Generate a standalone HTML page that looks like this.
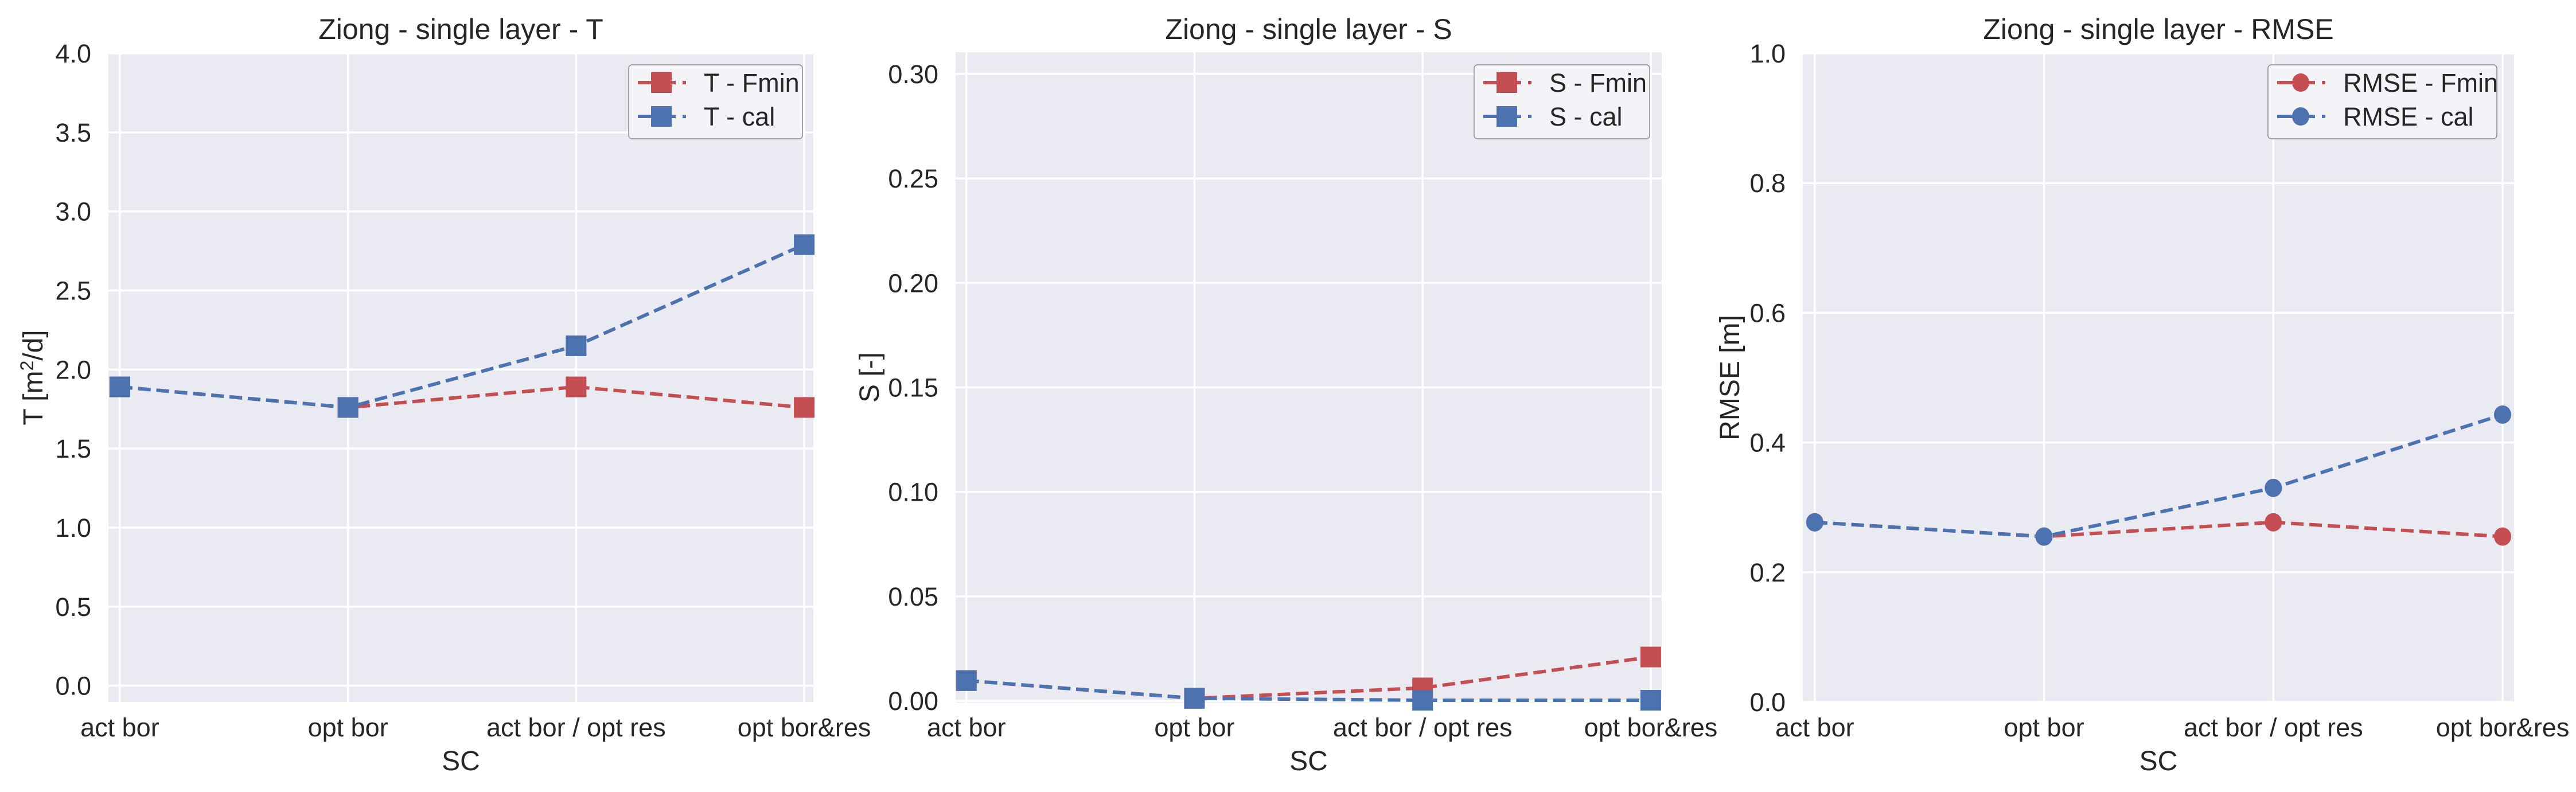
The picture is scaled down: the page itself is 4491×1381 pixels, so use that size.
<!DOCTYPE html>
<html><head><meta charset="utf-8"><style>
html,body{margin:0;padding:0;background:#fff;overflow:hidden;}
svg{display:block;font-family:"Liberation Sans",Arial,sans-serif;}
</style></head><body>
<svg id="fig" width="4491" height="1381" viewBox="0 0 4491 1381" xmlns="http://www.w3.org/2000/svg"></svg>
<script>
const categories = ["act bor","opt bor","act bor / opt res","opt bor&res"];
const tFmin = [1.89, 1.76, 1.89, 1.76];
const tCal = [1.89, 1.76, 2.15, 2.79];
const sFmin = [0.0097, 0.0012, 0.0062, 0.021];
const sCal = [0.0097, 0.0012, 0.0003, 0.0003];
const rmseFmin = [0.277, 0.255, 0.277, 0.255];
const rmseCal = [0.277, 0.255, 0.330, 0.443];
const tTicks = ["0.0","0.5","1.0","1.5","2.0","2.5","3.0","3.5","4.0"];
const sTicks = ["0.00","0.05","0.10","0.15","0.20","0.25","0.30"];
const rmseTicks = ["0.0","0.2","0.4","0.6","0.8","1.0"];

const NS = "http://www.w3.org/2000/svg";
const svg = document.getElementById('fig');
const RED = "#C44E52", BLUE = "#4C72B0";
function mk(tag, attrs, parent){
  const e = document.createElementNS(NS, tag);
  for (const k in attrs) e.setAttribute(k, attrs[k]);
  (parent||svg).appendChild(e);
  return e;
}
function txt(x, y, size, anchor, parent, rot){
  const t = mk('text',{x:0,y:0,"font-size":size,fill:"#262626","text-anchor":anchor,
    transform: rot ? `translate(${x},${y}) rotate(-90)` : `translate(${x},${y})`}, parent);
  return t;
}
const panels = [
  {name:"t", L:189, R:1418, T:93, B:1224, xmin:-0.05, xmax:3.04, ymin:-0.103, ymax:4.0, ticks:tTicks,
   series:[tFmin,tCal], labels:["T - Fmin","T - cal"], marker:"square", title:"Ziong - single layer - T",
   ylab:"T [m²/d]", ylabX:74, legX:1096, legW:303},
  {name:"s", L:1666, R:2897, T:91, B:1225, xmin:-0.047, xmax:3.048, ymin:-0.0008, ymax:0.3104, ticks:sTicks,
   series:[sFmin,sCal], labels:["S - Fmin","S - cal"], marker:"square", title:"Ziong - single layer - S",
   ylab:"S [-]", ylabX:1532, legX:2570, legW:306},
  {name:"rmse", L:3143, R:4383, T:93, B:1224, xmin:-0.052, xmax:3.05, ymin:0, ymax:1.0, ticks:rmseTicks,
   series:[rmseFmin,rmseCal], labels:["RMSE - Fmin","RMSE - cal"], marker:"circle", title:"Ziong - single layer - RMSE",
   ylab:"RMSE [m]", ylabX:3032, legX:3954, legW:399}
];
panels.forEach(p=>{
  const g = mk('g',{});
  
  
  const xs = v => p.L + (v - p.xmin)/(p.xmax-p.xmin)*(p.R-p.L);
  const ys = v => p.B - (v - p.ymin)/(p.ymax-p.ymin)*(p.B-p.T);
  const bg = mk('rect',{x:p.L,y:p.T,width:p.R-p.L,height:p.B-p.T,fill:"#EAEAF2"},g);
  
  
  p.ticks.forEach(t=>{
    const y = ys(parseFloat(t));
    mk('line',{x1:p.L,x2:p.R,y1:y,y2:y,stroke:"#fff","stroke-width":3.5},g);
    const tx = txt(p.L-30, y+16, 45, "end", g);
    tx.textContent = t;
    
    
  });
  categories.forEach((c,i)=>{
    const x = xs(i);
    mk('line',{x1:x,x2:x,y1:p.T,y2:p.B,stroke:"#fff","stroke-width":3.5},g);
    const tx = txt(x, 1284, 45, "middle", g);
    tx.textContent = c;
    
    
  });
  const title = txt((p.L+p.R)/2, 68, 50, "middle", g);
  title.textContent = p.title;
  
  
  const xl = txt((p.L+p.R)/2, 1343, 48, "middle", g);
  xl.textContent = "SC";
  
  
  const yl = txt(p.ylabX, (p.T+p.B)/2, 48, "middle", g, true);
  if (p.name==="t"){ yl.innerHTML = 'T [m<tspan dy="-16" font-size="32">2</tspan><tspan dy="16">/d]</tspan>'; }
  else yl.textContent = p.ylab;
  
  
  const colors=[RED,BLUE];
  function marker(x,y,col,parent){
    if (p.marker==="square") return mk('rect',{x:x-18,y:y-18,width:36,height:36,fill:col},parent);
    return mk('ellipse',{cx:x,cy:y,rx:15,ry:16,fill:col},parent);
  }
  p.series.forEach((s,si)=>{
    const pts = s.map((v,i)=>xs(i).toFixed(1)+","+ys(v).toFixed(1)).join(" ");
    const pl = mk('polyline',{points:pts,fill:"none",stroke:colors[si],"stroke-width":6,"stroke-dasharray":"22 10"},g);
    
    
    s.forEach((v,i)=>{
      const m = marker(xs(i),ys(v),colors[si],g);
      
      
    });
  });
  const lg = mk('g',{},g);
  
  
  mk('rect',{x:p.legX,y:113,width:p.legW,height:129,rx:6,fill:"#F3F3F8",stroke:"#8c8c8c","stroke-width":1.5},lg);
  p.labels.forEach((lab,i)=>{
    const y = 144 + i*59;
    const x0 = p.legX;
    mk('line',{x1:x0+16,x2:x0+82,y1:y,y2:y,stroke:colors[i],"stroke-width":6},lg);
    mk('line',{x1:x0+94,x2:x0+100,y1:y,y2:y,stroke:colors[i],"stroke-width":6},lg);
    marker(x0+57,y,colors[i],lg);
    const t = txt(x0+131, y+16, 45, "start", lg);
    t.textContent = lab;
    
    
  });
});
</script>
</body></html>
